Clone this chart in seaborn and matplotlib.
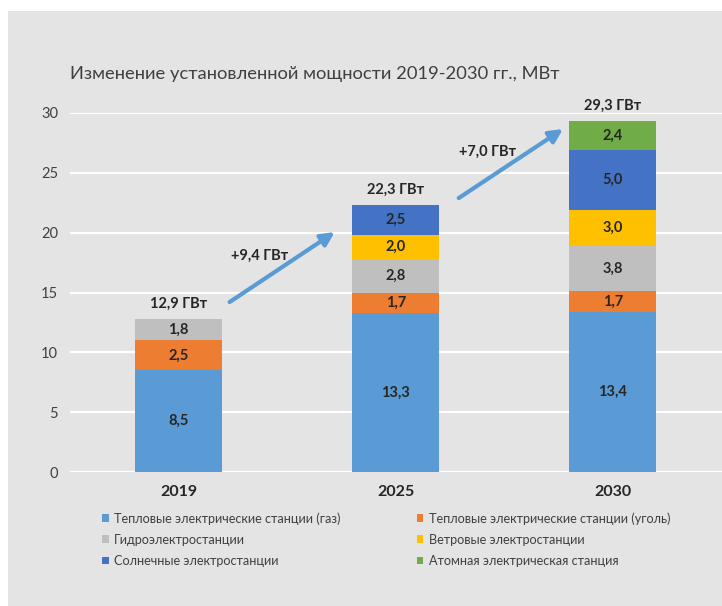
import numpy as np
import pandas as pd
import matplotlib.pyplot as plt
import seaborn as sns
from matplotlib.patches import Rectangle

# Chart data
years = ["2019", "2025", "2030"]
series = [
    "Тепловые электрические станции (газ)",
    "Тепловые электрические станции (уголь)",
    "Гидроэлектростанции",
    "Ветровые электростанции",
    "Солнечные электростанции",
    "Атомная электрическая станция",
]
gas = [8.5, 13.3, 13.4]
coal = [2.5, 1.7, 1.7]
hydro = [1.8, 2.8, 3.8]
wind = [0.0, 2.0, 3.0]
solar = [0.0, 2.5, 5.0]
nuclear = [0.0, 0.0, 2.4]
totals = ["12,9 ГВт", "22,3 ГВт", "29,3 ГВт"]
growth = ["+9,4 ГВт", "+7,0 ГВт"]

colors = ["#5b9bd5", "#ed7d31", "#bfbfbf", "#ffc000", "#4472c4", "#70ad47"]
values = [gas, coal, hydro, wind, solar, nuclear]

sns.set_theme(style="white")
plt.rcParams['font.family'] = ['Lato', 'DejaVu Sans']

fig = plt.figure(figsize=(7.22, 6.06), dpi=100)
fig.patch.set_facecolor("white")
fig.patches.append(Rectangle((8 / 722, 0), 1, 1 - 11 / 606, transform=fig.transFigure,
                             facecolor="#e3e4e3", edgecolor="none", zorder=-10))

ax = fig.add_axes([70 / 722, 1 - 472 / 606, (721.5 - 70) / 722, (472 - 113) / 606])
ax.set_facecolor("none")

bottom = np.zeros(len(years))
for name, vals, col in zip(series, values, colors):
    df = pd.DataFrame({"year": years, "value": vals})
    sns.barplot(data=df, x="year", y="value", bottom=bottom, color=col, width=0.4,
                saturation=1, ax=ax, label=name, zorder=3, linewidth=0, edgecolor="none",
                legend=False)
    labels = [f"{v:.1f}".replace(".", ",") if v > 0 else "" for v in vals]
    ax.bar_label(ax.containers[-1], labels=labels, label_type="center",
                 fontsize=10.5, fontweight="bold", color="#262626")
    bottom = bottom + np.array(vals)

# total labels above bars
for i, t in enumerate(totals):
    ax.text(i, bottom[i] + 0.7, t, ha="center", va="bottom", fontsize=10.5,
            fontweight="bold", color="#262626", clip_on=False)

# growth arrows
arrow_kw = dict(arrowstyle="-|>", color="#5b9bd5", lw=3, mutation_scale=20,
                shrinkA=0, shrinkB=0)
ax.annotate("", xy=(0.719, 20.05), xytext=(0.235, 14.2), arrowprops=arrow_kw)
ax.annotate("", xy=(1.77, 28.66), xytext=(1.29, 22.89), arrowprops=arrow_kw)
ax.text(0.373, 18.04, growth[0], ha="center", va="center", fontsize=10.5,
        fontweight="bold", color="#262626")
ax.text(1.424, 26.73, growth[1], ha="center", va="center", fontsize=10.5,
        fontweight="bold", color="#262626")

ax.set_xlim(-0.5, 2.5)
ax.set_ylim(0, 30)
ax.set_yticks(range(0, 31, 5))
ax.yaxis.grid(True, color="white", lw=1.6, zorder=0)
ax.set_axisbelow(True)
for s in ax.spines.values():
    s.set_visible(False)
ax.set_xlabel("")
ax.set_ylabel("")
ax.tick_params(axis="y", length=0, labelsize=10.5, labelcolor="#404040", pad=8.5)
ax.tick_params(axis="x", length=0, labelsize=11.5, labelcolor="#262626", pad=9.5)
for lbl in ax.get_xticklabels():
    lbl.set_fontweight("bold")
ax.set_xticks([-0.5, 0.5, 1.5, 2.5], minor=True)
ax.tick_params(axis="x", which="minor", length=3.5, color="white", width=1.5)

fig.text(70 / 722, 1 - 74 / 606, "Изменение установленной мощности 2019-2030 гг., МВт",
         fontsize=13.2, color="#404040", va="center", ha="left")

# legend, filled row by row as in the reference
handles = [c.patches[0] for c in ax.containers]
order = [0, 2, 4, 1, 3, 5]
leg = fig.legend([handles[i] for i in order], [series[i] for i in order],
                 loc="upper left", bbox_to_anchor=(102 / 722, 1 - 512 / 606),
                 ncol=2, frameon=False, fontsize=9.1, handlelength=0.52, handleheight=0.52,
                 handletextpad=0.45, columnspacing=6.0, labelspacing=0.72, labelcolor="#404040",
                 borderpad=0, borderaxespad=0)

fig.savefig("out.png", dpi=100)
